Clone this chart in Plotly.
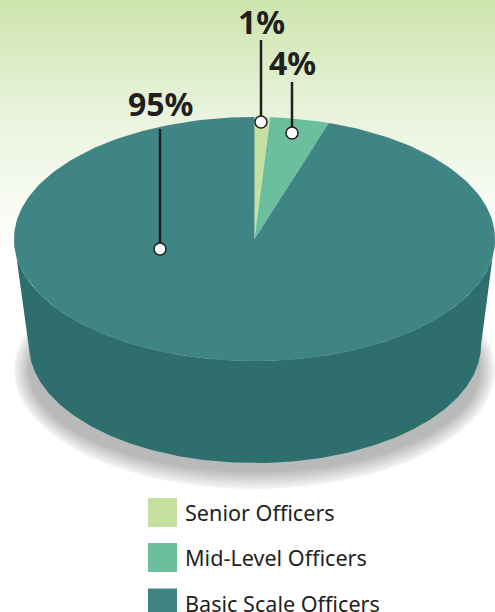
import numpy as np
import plotly.graph_objects as go

categories = ["Senior Officers", "Mid-Level Officers", "Basic Scale Officers"]
shares = [1, 4, 95]
labels = ["1%", "4%", "95%"]
colors = ["#c5df9e", "#6cbf9c", "#3e8584"]
WALL = "#2e6f6e"
INK = "#231f20"
FONT = "Noto Sans"

W, H = 495, 612
CX, CY, RX, RY = 254.5, 239, 240.5, 122
BX, BY, BRX, BRY = 255, 345, 226, 118

def ell(cx, cy, rx, ry, a0, a1, n=240):
    t = np.radians(np.linspace(a0, a1, n))
    return cx + rx * np.sin(t), cy - ry * np.cos(t)

fig = go.Figure()

# background wash
fig.add_trace(go.Scatter(
    x=[0, W, W, 0, 0], y=[0, 0, 250, 250, 0], mode="lines", line_width=0, fill="toself",
    fillgradient=dict(type="vertical", colorscale=[[0, "#ffffff"], [0.1, "#fbfdf8"], [0.55, "#e9f3dc"], [1, "#cde4ad"]]),
    hoverinfo="skip", showlegend=False))

# soft shadow
N = 14
c0, c1 = np.array([243, 244, 243]), np.array([184, 186, 185])
for i in range(N):
    f = i / (N - 1)
    col = c0 + (c1 - c0) * f
    x, y = ell(254.5, 370, 240.5 - 15 * f, 119 - 17 * f, 0, 360)
    fig.add_trace(go.Scatter(x=x, y=y, mode="lines", line_width=0, fill="toself",
                             fillcolor="rgb(%d,%d,%d)" % tuple(col), hoverinfo="skip", showlegend=False))

# wall
tx, ty = ell(CX, CY, RX, RY, 90, 270)
bx, by = ell(BX, BY, BRX, BRY, 270, 90)
fig.add_trace(go.Scatter(x=np.r_[tx, bx, tx[0]], y=np.r_[ty, by, ty[0]], mode="lines", line_width=0,
                         fill="toself", fillcolor=WALL, hoverinfo="skip", showlegend=False))

# top face slices, clockwise from 12 o'clock
total = sum(shares)
start = 0.0
for name, val, col in zip(categories, shares, colors):
    end = start + val / total * 360
    x, y = ell(CX, CY, RX, RY, start, end)
    fig.add_trace(go.Scatter(x=np.r_[CX, x, CX], y=np.r_[CY, y, CY], mode="lines", line_width=0,
                             fill="toself", fillcolor=col, name=name, showlegend=False))
    start = end

# leaders: x, line top, dot y; label x, label y
leaders = {"1%": (261, 40, 122, 261, 21), "4%": (292, 82, 133, 292, 62), "95%": (160, 129, 249, 160, 103)}
for lab in labels:
    lx, y0, y1, tx_, ty_ = leaders[lab]
    fig.add_trace(go.Scatter(x=[lx, lx], y=[y0, y1], mode="lines", line=dict(color=INK, width=2.5),
                             hoverinfo="skip", showlegend=False))
    fig.add_trace(go.Scatter(x=[lx], y=[y1], mode="markers",
                             marker=dict(color="white", size=12, line=dict(color=INK, width=1.5)),
                             hoverinfo="skip", showlegend=False))
    fig.add_annotation(x=tx_, y=ty_, text="<b>%s</b>" % lab, showarrow=False, xanchor="center", yanchor="middle",
                       font=dict(family=FONT, size=32, color=INK))

# legend
leg_y = [512.5, 557.5, 603]
for name, col, y in zip(categories, colors, leg_y):
    fig.add_trace(go.Scatter(x=[162.5], y=[y], mode="markers", marker=dict(symbol="square", size=29, color=col),
                             hoverinfo="skip", showlegend=False))
    fig.add_annotation(x=183, y=y, text=name, showarrow=False, xanchor="left", yanchor="middle",
                       font=dict(family=FONT, size=21.6, color=INK))

fig.update_layout(width=W, height=H, margin=dict(l=0, r=0, t=0, b=0), paper_bgcolor="white", plot_bgcolor="white",
                  xaxis=dict(range=[0, W], visible=False, fixedrange=True),
                  yaxis=dict(range=[H, 0], visible=False, fixedrange=True), showlegend=False)
fig.write_html("out.html", config={"displayModeBar": False},
               post_script="document.body.style.margin='0';document.documentElement.style.overflow='hidden';")
